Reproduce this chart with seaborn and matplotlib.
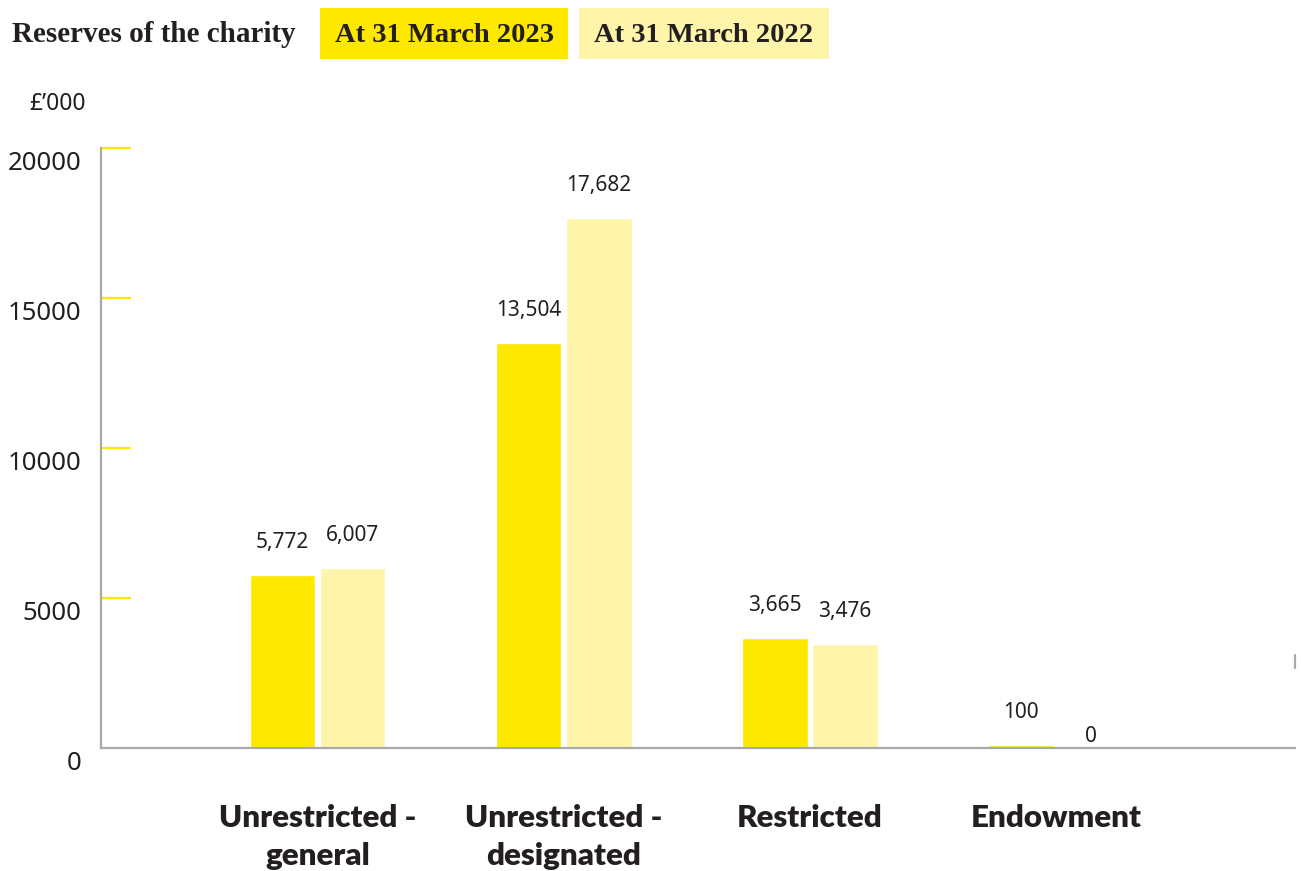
import matplotlib
matplotlib.use("Agg")
import matplotlib.pyplot as plt
import matplotlib.transforms as mtransforms
from matplotlib.patches import Rectangle
import seaborn as sns
import pandas as pd

categories = ["Unrestricted -\ngeneral", "Unrestricted -\ndesignated", "Restricted", "Endowment"]
series_names = ["At 31 March 2023", "At 31 March 2022"]
values_2023 = [5772, 13504, 3665, 100]
values_2022 = [6007, 17682, 3476, 0]
yticks = [0, 5000, 10000, 15000, 20000]

colors = {"At 31 March 2023": "#FFE800", "At 31 March 2022": "#FEF4AA"}
text_color = "#231F20"
spine_color = "#A7A9AC"

df = pd.DataFrame({
    "category": categories * 2,
    "series": [series_names[0]] * 4 + [series_names[1]] * 4,
    "value": values_2023 + values_2022,
})

sns.set_theme(style="white")
plt.rcParams["font.family"] = ["Noto Sans", "DejaVu Sans"]

fig = plt.figure(figsize=(13.01, 8.71), dpi=100)
ax = fig.add_axes([101 / 1301, 1 - 748 / 871, (1295 - 101) / 1301, 600 / 871])

sns.barplot(data=df, x="category", y="value", hue="series", order=categories,
            hue_order=series_names, palette=colors, width=0.57, gap=0.07,
            saturation=1, legend=False, ax=ax, errorbar=None)

ax.set_xlim(-0.88, 3.97)
ax.set_ylim(0, 20000)
ax.set_xlabel("")
ax.set_ylabel("")

# value labels
for cont in ax.containers:
    for bar in cont:
        h = bar.get_height()
        off = 1 if h == 0 else 22
        ax.annotate(f"{int(h):,}", (bar.get_x() + bar.get_width() / 2, h),
                    xytext=(0, off), textcoords="offset pixels",
                    ha="center", va="bottom", fontsize=15, color=text_color)

# spines
for s in ["top", "right"]:
    ax.spines[s].set_visible(False)
for s in ["left", "bottom"]:
    ax.spines[s].set_color(spine_color)
    ax.spines[s].set_linewidth(1.6)
ax.plot([1, 1], [0.133, 0.155], transform=ax.transAxes, color=spine_color,
        lw=1.6, clip_on=False)

# y ticks
ax.set_yticks(yticks)
ax.set_yticklabels([str(v) for v in yticks])
ax.tick_params(axis="y", direction="in", length=21.6, width=1.6, color="#FFE800",
               pad=14, labelsize=18.5, labelcolor=text_color, left=True)
ax.yaxis.get_major_ticks()[0].tick1line.set_visible(False)
shift = mtransforms.ScaledTranslation(0, -12 / 100, fig.dpi_scale_trans)
for lab in ax.get_yticklabels():
    lab.set_transform(lab.get_transform() + shift)

# x ticks
ax.set_xticks(range(len(categories)))
ax.set_xticklabels(categories, fontdict={"family": "Lato", "weight": "heavy",
                                         "size": 22.5, "color": text_color})
ax.tick_params(axis="x", length=0, pad=40)
for lab in ax.get_xticklabels():
    lab.set_linespacing(1.45)
    lab.set_verticalalignment("top")

ax.grid(False)

# unit label
fig.text(86 / 1301, 1 - 104 / 871, "£’000", ha="right", va="center",
         fontsize=16.5, color=text_color)

# header legend
serif = "Liberation Serif"
fig.text(12 / 1301, 1 - 35 / 871, "Reserves of the charity", ha="left", va="center",
         fontsize=21, fontweight="bold", family=serif, color=text_color)
boxes = [(320, 568), (579, 829)]
for (x0, x1), name in zip(boxes, series_names):
    fig.patches.append(Rectangle((x0 / 1301, 1 - 59 / 871), (x1 - x0) / 1301, 51 / 871,
                                 transform=fig.transFigure, facecolor=colors[name],
                                 edgecolor="none"))
    fig.text((x0 + x1) / 2 / 1301, 1 - 35 / 871, name, ha="center", va="center",
             fontsize=20.5, fontweight="bold", family=serif, color=text_color)

fig.savefig("out.png", dpi=100)
